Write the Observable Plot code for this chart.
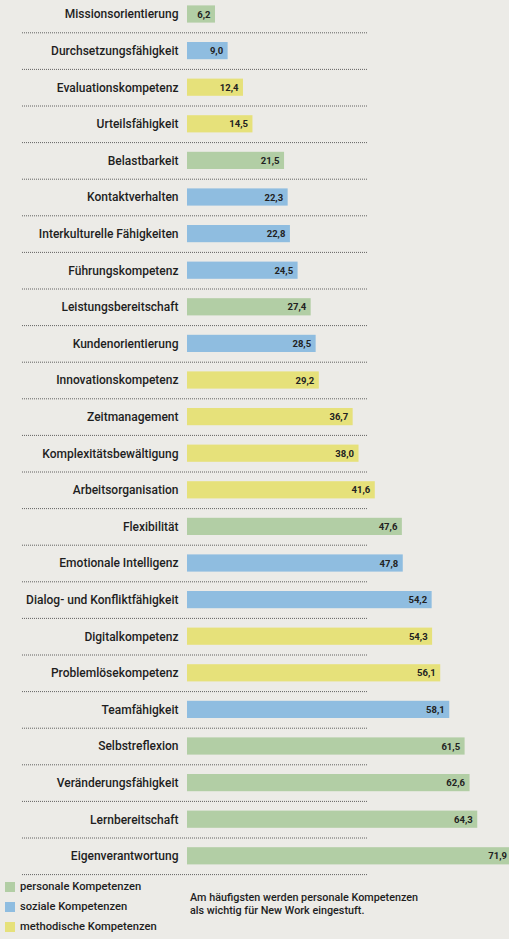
<!DOCTYPE html>
<html>
<head>
<meta charset="utf-8">
<script src="https://cdn.jsdelivr.net/npm/d3@7"></script>
<script src="https://cdn.jsdelivr.net/npm/@observablehq/plot@0.6"></script>
<style>
  html, body { margin: 0; padding: 0; background: #ecebe7; }
  body { width: 509px; height: 939px; overflow: hidden; font-family: Roboto, "Liberation Sans", sans-serif; color: #1e1e1e; }
  #chart svg { display: block; background: transparent; }
  #foot { position: relative; height: 61px; }
  .leg { position: absolute; left: 5px; font-size: 11.2px; font-weight: 500; display: flex; align-items: center; height: 13px; }
  .sw { width: 10px; height: 10px; margin-right: 5px; display: inline-block; }
  .note { position: absolute; left: 190px; top: 14px; font-size: 10.8px; font-weight: 500; line-height: 12.5px; }
</style>
</head>
<body>
<div id="chart"></div>
<div id="foot"></div>
<script>
const categories = [
  "Missionsorientierung", "Durchsetzungsfähigkeit", "Evaluationskompetenz", "Urteilsfähigkeit",
  "Belastbarkeit", "Kontaktverhalten", "Interkulturelle Fähigkeiten", "Führungskompetenz",
  "Leistungsbereitschaft", "Kundenorientierung", "Innovationskompetenz", "Zeitmanagement",
  "Komplexitätsbewältigung", "Arbeitsorganisation", "Flexibilität", "Emotionale Intelligenz",
  "Dialog- und Konfliktfähigkeit", "Digitalkompetenz", "Problemlösekompetenz", "Teamfähigkeit",
  "Selbstreflexion", "Veränderungsfähigkeit", "Lernbereitschaft", "Eigenverantwortung"
];
const values = [6.2, 9.0, 12.4, 14.5, 21.5, 22.3, 22.8, 24.5, 27.4, 28.5, 29.2, 36.7,
  38.0, 41.6, 47.6, 47.8, 54.2, 54.3, 56.1, 58.1, 61.5, 62.6, 64.3, 71.9];
const groups = ["personal", "sozial", "methodisch", "methodisch",
  "personal", "sozial", "sozial", "sozial",
  "personal", "sozial", "methodisch", "methodisch",
  "methodisch", "methodisch", "personal", "sozial",
  "sozial", "methodisch", "methodisch", "sozial",
  "personal", "personal", "personal", "personal"];
const groupKeys = ["personal", "sozial", "methodisch"];
const groupLabels = ["personale Kompetenzen", "soziale Kompetenzen", "methodische Kompetenzen"];
const groupColors = ["#b2cea5", "#8fbde0", "#e6e17a"];
const note = ["Am häufigsten werden personale Kompetenzen", "als wichtig für New Work eingestuft."];

const data = categories.map((c, i) => ({name: c, value: values[i], group: groups[i]}));
const fmt = v => v.toFixed(1).replace(".", ",");

const step = 36.6;
const chart = Plot.plot({
  width: 509,
  height: 878,
  marginLeft: 0, marginRight: 0, marginTop: 0, marginBottom: 0,
  x: {domain: [0, 72], range: [187, 512], axis: null},
  y: {domain: categories, range: [14 - step / 2, 14 - step / 2 + 24 * step], paddingInner: 0.53, paddingOuter: 0.265, round: false, axis: null},
  color: {domain: groupKeys, range: groupColors},
  style: {background: "transparent", fontFamily: "Roboto, 'Liberation Sans', sans-serif"},
  marks: [
    Plot.ruleY(data, {y: "name", dy: step / 2, insetLeft: 22, insetRight: 141, stroke: "#4a4a4a", strokeWidth: 1, strokeDasharray: "1 1", strokeOpacity: 0.85}),
    Plot.barX(data, {x: "value", y: "name", fill: "group"}),
    Plot.text(data, {x: () => 0, y: "name", text: "name", textAnchor: "end", dx: -9, fontSize: 12, fontWeight: 500, fill: "#1e1e1e"}),
    Plot.text(data, {x: "value", y: "name", text: d => fmt(d.value), textAnchor: "end", dx: -5, fontSize: 9.5, fontWeight: 700, fill: "#222"})
  ]
});
document.getElementById("chart").appendChild(chart);

const foot = document.getElementById("foot");
groupKeys.forEach((k, i) => {
  const d = document.createElement("div");
  d.className = "leg";
  d.style.top = (2 + i * 20) + "px";
  d.innerHTML = `<span class="sw" style="background:${groupColors[i]}"></span>${groupLabels[i]}`;
  foot.appendChild(d);
});
const n = document.createElement("div");
n.className = "note";
n.innerHTML = note.join("<br>");
foot.appendChild(n);
</script>
</body>
</html>
